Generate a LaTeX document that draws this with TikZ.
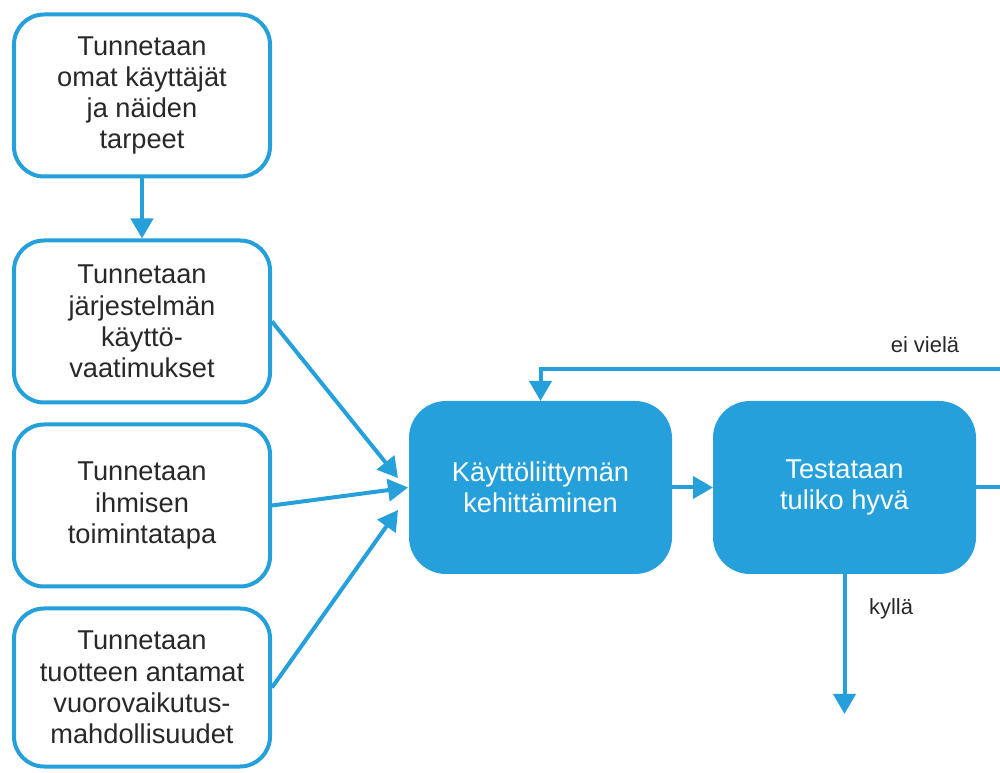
\documentclass[tikz,border=0pt]{standalone}
\usepackage{fontspec}
\setmainfont{Liberation Sans}
\usepackage{tikz}
\usetikzlibrary{positioning,arrows.meta}
\definecolor{flowblue}{RGB}{38,160,218}
\definecolor{flowtext}{RGB}{40,40,40}
\tikzset{know/.style={draw=flowblue,line width=0.08cm,rounded corners=0.6cm,fill=white,
    minimum width=5.12cm,minimum height=3.24cm,align=center,text=flowtext,
    font=\fontsize{15.5}{17.8}\selectfont,inner sep=0pt},
    work/.style={know,fill=flowblue,text=white,minimum width=5.18cm,
    minimum height=3.38cm,rounded corners=0.7cm},
    flow/.style={draw=flowblue,line width=0.08cm,-{Triangle[width=0.44cm,length=0.4cm]}},
    answer/.style={text=flowtext,font=\fontsize{12.5}{15}\selectfont},
    node distance=0.36cm}

\begin{document}
\begin{tikzpicture}
    \useasboundingbox (0,0) rectangle (20,15.44);
    \clip (0,0) rectangle (20,15.44);
    \node[know] (users) at (2.84,13.53) {Tunnetaan\\omat käyttäjät\\ja näiden\\tarpeet};
    \node[know,below=1.2cm of users] (req) {Tunnetaan\\järjestelmän\\käyttö-\\vaatimukset};
    \node[know,below=of req] (human) {Tunnetaan\\ihmisen\\toimintatapa};
    \node[know,below=of human,minimum height=3.16cm] (product) {Tunnetaan\\tuotteen antamat\\vuorovaikutus-\\mahdollisuudet};
    \node[work] (dev) at (10.81,5.69) {Käyttöliittymän\\kehittäminen};
    \node[work,right=0.82cm of dev] (test) {Testataan\\tuliko hyvä};
    \coordinate (loopR) at (20.06,8.06);
    \coordinate (exit) at ([yshift=-2.8cm]test.south);
    \node[answer] (notyet) at (18.5,8.54) {ei vielä};
    \node[answer] (yes) at (17.82,3.26) {kyllä};

    \draw[flow] (users) -- (req);
    \draw[flow] (req.east) -- ([xshift=-0.22cm,yshift=0.19cm]dev.west);
    \draw[flow] (human.east) -- ([xshift=-0.02cm]dev.west);
    \draw[flow] (product.east) -- ([xshift=-0.22cm,yshift=-0.45cm]dev.west);
    \draw[flow] (dev) -- (test);
    \draw[flow] (test.east) -- (loopR |- test.east) -- (loopR) -- (loopR -| dev.north) -- (dev.north);
    \draw[flow] (test.south) -- (exit);
\end{tikzpicture}
\end{document}
